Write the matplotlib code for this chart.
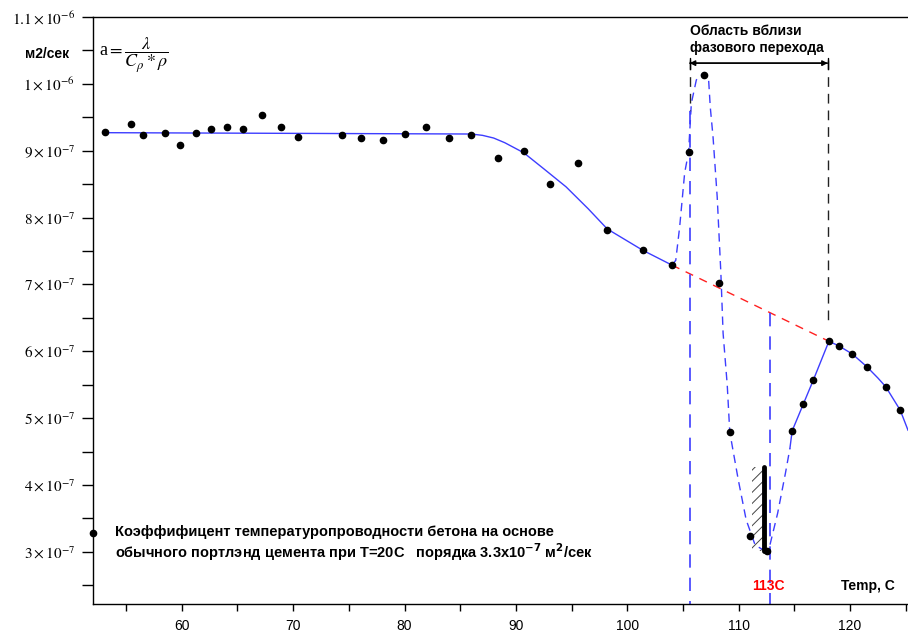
import matplotlib
matplotlib.use("Agg")
import matplotlib.pyplot as plt
import numpy as np
from matplotlib.patches import Rectangle

plt.rcParams["mathtext.fontset"] = "stix"
plt.rcParams["font.family"] = ["Liberation Sans", "DejaVu Sans"]
plt.rcParams["hatch.linewidth"] = 0.7

E = 1e-7  # all values below are in units of 1e-7 m2/s

# measured points (temperature, C ; diffusivity, 1e-7 m2/s)
temp = [53.1, 55.4, 56.5, 58.5, 59.8, 61.3, 62.6, 64.1, 65.5, 67.2, 68.9, 70.4,
        74.4, 76.1, 78.1, 80.0, 81.9, 84.0, 86.0, 88.4, 90.7, 93.1, 95.6, 98.2,
        101.4, 104.0, 105.5, 106.9, 108.2, 109.2, 111.0, 112.5, 114.8, 115.8,
        116.7, 118.1, 119.0, 120.2, 121.5, 123.2, 124.5]
diff = [9.28, 9.40, 9.23, 9.26, 9.09, 9.26, 9.32, 9.35, 9.32, 9.53, 9.36, 9.21,
        9.23, 9.19, 9.16, 9.25, 9.36, 9.19, 9.23, 8.89, 8.99, 8.50, 8.81, 7.81,
        7.51, 7.29, 8.98, 10.14, 7.02, 4.79, 3.24, 3.01, 4.81, 5.21,
        5.57, 6.15, 6.08, 5.96, 5.77, 5.47, 5.12]

# point at 20C (drawn on the left axis)
ref_t = 52.03
ref_a = 3.28

# fitted curve, before the transition (solid)
fit1_t = [53.1, 86.0, 87.0, 88.0, 89.0, 90.7, 92.5, 94.5, 96.5, 98.2, 101.4, 104.0]
fit1_a = [9.27, 9.25, 9.23, 9.19, 9.12, 8.97, 8.73, 8.46, 8.13, 7.83, 7.51, 7.29]

# curve through the transition (dashed)
fit2_t = [104.0, 104.35, 104.7, 105.15, 105.5, 105.75, 106.2, 106.9, 107.3, 107.45,
          107.7, 108.07, 108.4, 108.6, 108.97, 109.2, 109.96, 110.67, 111.48,
          112.2, 112.8, 113.5, 114.2, 114.6]
fit2_a = [7.29, 7.36, 7.86, 8.67, 8.98, 9.71, 10.06, 10.17, 10.06, 9.65,
          9.2, 8.31, 7.17, 6.27, 5.50, 4.79, 4.08, 3.48, 3.10,
          3.03, 3.10, 3.58, 4.18, 4.55]

# curve after the transition (solid)
fit3_t = [114.6, 114.8, 115.8, 116.7, 118.1, 119.0, 120.2, 121.5, 122.5, 123.2, 124.5, 125.2]
fit3_a = [4.55, 4.81, 5.21, 5.57, 6.15, 6.08, 5.96, 5.77, 5.60, 5.47, 5.12, 4.82]

# extrapolated line (red dashed)
extr_t = [104.0, 118.1]
extr_a = [7.29, 6.15]

# transition region borders
t_left = 105.6
t_right = 118.0
t_113 = 112.8
a_113 = 6.57
a_top = 10.36
a_split = 9.6
a_right_end = 6.44

# wall marker at the minimum
wall_t = 112.25
wall_a = [3.02, 4.27]
hatch_w = 1.1

xmin, xmax = 52.03, 125.2
ymin, ymax = 2.22, 11.0

blue = "#3d3dff"

fig = plt.figure(figsize=(9.08, 6.35), dpi=100)
ax = fig.add_axes([0.1024, 0.0488, 0.8976, 0.9244])

ax.plot(fit1_t, np.array(fit1_a) * E, color=blue, lw=1.0)
ax.plot(fit2_t, np.array(fit2_a) * E, color=blue, lw=1.0, ls=(0, (6, 4)))
ax.plot(fit3_t, np.array(fit3_a) * E, color=blue, lw=1.0)
ax.plot(extr_t, np.array(extr_a) * E, color="#ff2020", lw=1.0, ls=(0, (6, 5)))

# vertical dashed lines
ax.plot([t_left, t_left], [a_top * E, a_split * E], color="#222222", lw=1.0, ls=(0, (7, 5)))
ax.plot([t_left, t_left], [a_split * E, ymin * E], color=blue, lw=1.2, ls=(0, (8, 6)))
ax.plot([t_right, t_right], [a_top * E, a_right_end * E], color="#222222", lw=1.0, ls=(0, (7, 5)))
ax.plot([t_113, t_113], [a_113 * E, ymin * E], color=blue, lw=1.2, ls=(0, (8, 6)))

# arrow over transition region
arr_a = 10.31 * E
ax.annotate("", xy=(t_right, arr_a), xytext=(t_left, arr_a),
            arrowprops=dict(arrowstyle="<|-|>", color="black", lw=1.0,
                            mutation_scale=8, shrinkA=0, shrinkB=0))
ax.annotate("", xy=(t_right, arr_a), xytext=(t_left, arr_a),
            arrowprops=dict(arrowstyle="|-|", color="black", lw=1.0,
                            mutation_scale=4, shrinkA=0, shrinkB=0))
ax.text(t_left, 10.66 * E, "Область вблизи\nфазового перехода", fontsize=10,
        fontweight="bold", ha="left", va="center", linespacing=1.25)

# hatched wall
ax.add_patch(Rectangle((wall_t - hatch_w, wall_a[0] * E), hatch_w,
                       (wall_a[1] - wall_a[0]) * E, facecolor="none",
                       edgecolor="#444444", lw=0, hatch="///"))
ax.plot([wall_t, wall_t], np.array(wall_a) * E, color="black", lw=3.5,
        solid_capstyle="round")

# points
ax.plot(temp, np.array(diff) * E, "o", color="black", ms=4.5)
ax.plot([ref_t], [ref_a * E], "o", color="black", ms=4.5, clip_on=False, zorder=5)

ax.text(112.65, 2.49 * E, "113C", color="red", fontsize=10, fontweight="bold",
        ha="center", va="center")
ax.text(119.2, 2.49 * E, "Temp, C", color="black", fontsize=10, fontweight="bold",
        ha="left", va="center")

ax.text(54.0, 3.12 * E, "Коэффифицент температуропроводности бетона на основе\n"
        r"обычного портлэнд цемента при T=20C   порядка 3.3x10$^{\mathbf{-7}}$ м$^{\mathbf{2}}$/сек",
        fontsize=10.5, fontweight="bold", ha="left", va="center", linespacing=1.12,
        math_fontfamily="dejavusans")

ax.text(52.6, 10.42 * E, r"a$=\dfrac{\lambda}{C_{\rho} * \rho}$", fontsize=13,
        ha="left", va="center", family="Liberation Serif")

fig.text(47 / 908, 1 - 54 / 635, "м2/сек", fontsize=10, fontweight="bold",
         ha="center", va="center")

ax.set_xlim(xmin, xmax)
ax.set_ylim(ymin * E, ymax * E)

ax.set_xticks(np.arange(60, 121, 10))
ax.set_xticks(np.arange(55, 126, 10), minor=True)
ytick_vals = [3, 4, 5, 6, 7, 8, 9, 10, 11]
ytick_labels = [r"$3\times10^{-7}$", r"$4\times10^{-7}$", r"$5\times10^{-7}$",
                r"$6\times10^{-7}$", r"$7\times10^{-7}$", r"$8\times10^{-7}$",
                r"$9\times10^{-7}$", r"$1\times10^{-6}$", r"$1.1\times10^{-6}$"]
ax.set_yticks(np.array(ytick_vals) * E)
ax.set_yticklabels(ytick_labels)
ax.set_yticks(list((np.array(ytick_vals[:-1]) - 0.5) * E) + [10.5 * E], minor=True)

ax.tick_params(axis="y", which="both", direction="out", length=8, width=1,
               labelsize=11, pad=5)
ax.tick_params(axis="x", which="both", direction="out", length=5, width=1,
               labelsize=10, pad=6)
ax.spines["right"].set_visible(False)
for s in ["left", "top", "bottom"]:
    ax.spines[s].set_linewidth(1.0)

fig.savefig("out.png", dpi=100)
